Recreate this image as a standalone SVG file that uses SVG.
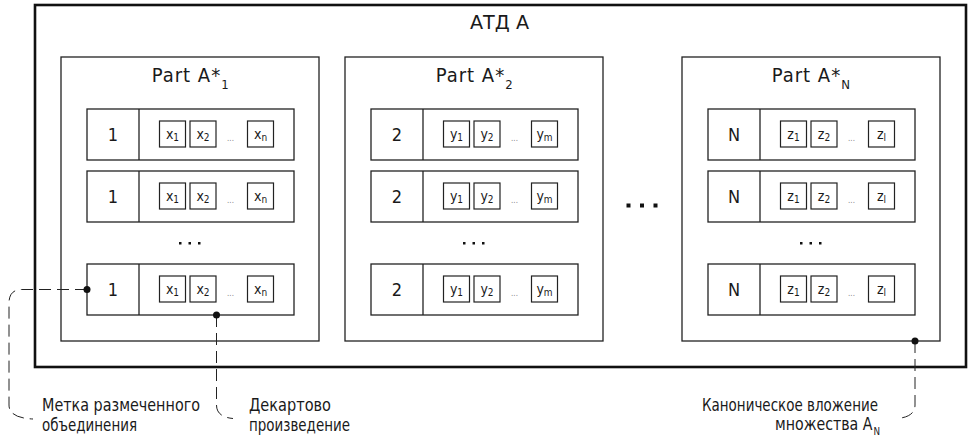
<svg xmlns="http://www.w3.org/2000/svg" width="971" height="438" viewBox="0 0 971 438">
<style>
text{font-family:"DejaVu Sans Condensed","Liberation Sans Narrow","Liberation Sans",sans-serif;fill:#1a1a1a}
.outer{fill:#fff;stroke:#111;stroke-width:2.6}
.part{fill:#fff;stroke:#222;stroke-width:1.3}
.row{fill:#fff;stroke:#222;stroke-width:1.3}
.div{stroke:#222;stroke-width:1.3}
.item{fill:#fff;stroke:#222;stroke-width:1.2}
.num{font-size:18px;text-anchor:middle}
.it{font-size:14px;text-anchor:middle}
.sub{font-size:10px}
.psub{font-size:13px}
.ell{font-size:8px;fill:#888;text-anchor:middle}
.title{font-size:19px}
.ptitle{font-size:20px;letter-spacing:1px}
.lbl{font-size:17px}
.conn{fill:none;stroke:#222;stroke-width:1;stroke-dasharray:12 6}
.dot{fill:#111}
.sq{fill:#111}
</style>
<g id="atd">
<rect class="outer" x="35" y="5" width="931" height="362"/>
<text class="title" x="470" y="28.5" textLength="59" lengthAdjust="spacingAndGlyphs">АТД A</text>
</g>

<g id="part1">
<rect class="part" x="61" y="57" width="258" height="284"/>
<text class="ptitle" x="151.7" y="81.7">Part A*<tspan class="psub" dy="6.8">1</tspan></text>
<g id="p1r1">
<rect class="row" x="87" y="109" width="207" height="51"/><line class="div" x1="139" y1="109" x2="139" y2="160"/>
<text class="num" x="113" y="141">1</text>
<rect class="item" x="159.5" y="121" width="26" height="26"/><rect class="item" x="190" y="121" width="26" height="26"/><rect class="item" x="247.5" y="121" width="26" height="26"/>
<text class="it" x="172.5" y="138.5">x<tspan class="sub" dy="2.5">1</tspan></text>
<text class="it" x="203" y="138.5">x<tspan class="sub" dy="2.5">2</tspan></text>
<text class="it" x="260.5" y="138.5">x<tspan class="sub" dy="2.5">n</tspan></text>
<text class="ell" x="230.5" y="141">...</text>
</g>
<g id="p1r2">
<rect class="row" x="87" y="171" width="207" height="51"/><line class="div" x1="139" y1="171" x2="139" y2="222"/>
<text class="num" x="113" y="203">1</text>
<rect class="item" x="159.5" y="183" width="26" height="26"/><rect class="item" x="190" y="183" width="26" height="26"/><rect class="item" x="247.5" y="183" width="26" height="26"/>
<text class="it" x="172.5" y="200.5">x<tspan class="sub" dy="2.5">1</tspan></text>
<text class="it" x="203" y="200.5">x<tspan class="sub" dy="2.5">2</tspan></text>
<text class="it" x="260.5" y="200.5">x<tspan class="sub" dy="2.5">n</tspan></text>
<text class="ell" x="230.5" y="203">...</text>
</g>
<g id="p1dots"><rect class="sq" x="179" y="242" width="2.5" height="2.5"/><rect class="sq" x="188.5" y="242" width="2.5" height="2.5"/><rect class="sq" x="198" y="242" width="2.5" height="2.5"/></g>
<g id="p1r3">
<rect class="row" x="87" y="264" width="207" height="51"/><line class="div" x1="139" y1="264" x2="139" y2="315"/>
<text class="num" x="113" y="296">1</text>
<rect class="item" x="159.5" y="276" width="26" height="26"/><rect class="item" x="190" y="276" width="26" height="26"/><rect class="item" x="247.5" y="276" width="26" height="26"/>
<text class="it" x="172.5" y="293.5">x<tspan class="sub" dy="2.5">1</tspan></text>
<text class="it" x="203" y="293.5">x<tspan class="sub" dy="2.5">2</tspan></text>
<text class="it" x="260.5" y="293.5">x<tspan class="sub" dy="2.5">n</tspan></text>
<text class="ell" x="230.5" y="296">...</text>
</g>
</g>

<g id="part2">
<rect class="part" x="345" y="57" width="258" height="284"/>
<text class="ptitle" x="435.7" y="81.7">Part A*<tspan class="psub" dy="6.8">2</tspan></text>
<g id="p2r1">
<rect class="row" x="371" y="109" width="207" height="51"/><line class="div" x1="423" y1="109" x2="423" y2="160"/>
<text class="num" x="397" y="141">2</text>
<rect class="item" x="443.5" y="121" width="26" height="26"/><rect class="item" x="474" y="121" width="26" height="26"/><rect class="item" x="531.5" y="121" width="26" height="26"/>
<text class="it" x="456.5" y="138.5">y<tspan class="sub" dy="2.5">1</tspan></text>
<text class="it" x="487" y="138.5">y<tspan class="sub" dy="2.5">2</tspan></text>
<text class="it" x="544.5" y="138.5">y<tspan class="sub" dy="2.5">m</tspan></text>
<text class="ell" x="514.5" y="141">...</text>
</g>
<g id="p2r2">
<rect class="row" x="371" y="171" width="207" height="51"/><line class="div" x1="423" y1="171" x2="423" y2="222"/>
<text class="num" x="397" y="203">2</text>
<rect class="item" x="443.5" y="183" width="26" height="26"/><rect class="item" x="474" y="183" width="26" height="26"/><rect class="item" x="531.5" y="183" width="26" height="26"/>
<text class="it" x="456.5" y="200.5">y<tspan class="sub" dy="2.5">1</tspan></text>
<text class="it" x="487" y="200.5">y<tspan class="sub" dy="2.5">2</tspan></text>
<text class="it" x="544.5" y="200.5">y<tspan class="sub" dy="2.5">m</tspan></text>
<text class="ell" x="514.5" y="203">...</text>
</g>
<g id="p2dots"><rect class="sq" x="463" y="242" width="2.5" height="2.5"/><rect class="sq" x="472.5" y="242" width="2.5" height="2.5"/><rect class="sq" x="482" y="242" width="2.5" height="2.5"/></g>
<g id="p2r3">
<rect class="row" x="371" y="264" width="207" height="51"/><line class="div" x1="423" y1="264" x2="423" y2="315"/>
<text class="num" x="397" y="296">2</text>
<rect class="item" x="443.5" y="276" width="26" height="26"/><rect class="item" x="474" y="276" width="26" height="26"/><rect class="item" x="531.5" y="276" width="26" height="26"/>
<text class="it" x="456.5" y="293.5">y<tspan class="sub" dy="2.5">1</tspan></text>
<text class="it" x="487" y="293.5">y<tspan class="sub" dy="2.5">2</tspan></text>
<text class="it" x="544.5" y="293.5">y<tspan class="sub" dy="2.5">m</tspan></text>
<text class="ell" x="514.5" y="296">...</text>
</g>
</g>

<g id="between"><rect class="sq" x="626.5" y="203.5" width="4" height="4"/><rect class="sq" x="640" y="203.5" width="4" height="4"/><rect class="sq" x="653.5" y="203.5" width="4" height="4"/></g>

<g id="partN">
<rect class="part" x="682" y="57" width="258" height="284"/>
<text class="ptitle" x="771.7" y="81.7">Part A*<tspan class="psub" dy="6.8">N</tspan></text>
<g id="pNr1">
<rect class="row" x="708" y="109" width="207" height="51"/><line class="div" x1="760" y1="109" x2="760" y2="160"/>
<text class="num" x="734" y="141">N</text>
<rect class="item" x="780.5" y="121" width="26" height="26"/><rect class="item" x="811" y="121" width="26" height="26"/><rect class="item" x="868.5" y="121" width="26" height="26"/>
<text class="it" x="793.5" y="138.5">z<tspan class="sub" dy="2.5">1</tspan></text>
<text class="it" x="824" y="138.5">z<tspan class="sub" dy="2.5">2</tspan></text>
<text class="it" x="881.5" y="138.5">z<tspan class="sub" dy="2.5">l</tspan></text>
<text class="ell" x="851.5" y="141">...</text>
</g>
<g id="pNr2">
<rect class="row" x="708" y="171" width="207" height="51"/><line class="div" x1="760" y1="171" x2="760" y2="222"/>
<text class="num" x="734" y="203">N</text>
<rect class="item" x="780.5" y="183" width="26" height="26"/><rect class="item" x="811" y="183" width="26" height="26"/><rect class="item" x="868.5" y="183" width="26" height="26"/>
<text class="it" x="793.5" y="200.5">z<tspan class="sub" dy="2.5">1</tspan></text>
<text class="it" x="824" y="200.5">z<tspan class="sub" dy="2.5">2</tspan></text>
<text class="it" x="881.5" y="200.5">z<tspan class="sub" dy="2.5">l</tspan></text>
<text class="ell" x="851.5" y="203">...</text>
</g>
<g id="pNdots"><rect class="sq" x="800" y="242" width="2.5" height="2.5"/><rect class="sq" x="809.5" y="242" width="2.5" height="2.5"/><rect class="sq" x="819" y="242" width="2.5" height="2.5"/></g>
<g id="pNr3">
<rect class="row" x="708" y="264" width="207" height="51"/><line class="div" x1="760" y1="264" x2="760" y2="315"/>
<text class="num" x="734" y="296">N</text>
<rect class="item" x="780.5" y="276" width="26" height="26"/><rect class="item" x="811" y="276" width="26" height="26"/><rect class="item" x="868.5" y="276" width="26" height="26"/>
<text class="it" x="793.5" y="293.5">z<tspan class="sub" dy="2.5">1</tspan></text>
<text class="it" x="824" y="293.5">z<tspan class="sub" dy="2.5">2</tspan></text>
<text class="it" x="881.5" y="293.5">z<tspan class="sub" dy="2.5">l</tspan></text>
<text class="ell" x="851.5" y="296">...</text>
</g>
</g>

<g id="connectors">
<path class="conn" d="M87,289.5 H22 Q9,289.5 9,303 V405 Q9,418 33,419"/>
<path class="conn" d="M216.5,315 V405 Q216.5,417 233,418.5"/>
<path class="conn" d="M915,341 V405 Q915,417 897,418.5"/>
<circle class="dot" cx="87" cy="289.5" r="3.5"/>
<circle class="dot" cx="216.5" cy="315" r="3.5"/>
<circle class="dot" cx="915" cy="341" r="3.5"/>
</g>

<g id="labels">
<text class="lbl" x="42" y="411" textLength="158" lengthAdjust="spacingAndGlyphs">Метка размеченного</text>
<text class="lbl" x="42" y="431" textLength="95" lengthAdjust="spacingAndGlyphs">объединения</text>
<text class="lbl" x="249" y="411" textLength="82" lengthAdjust="spacingAndGlyphs">Декартово</text>
<text class="lbl" x="249" y="431" textLength="101" lengthAdjust="spacingAndGlyphs">произведение</text>
<text class="lbl" x="702" y="411" textLength="176" lengthAdjust="spacingAndGlyphs">Каноническое вложение</text>
<text class="lbl" x="775" y="430" textLength="105" lengthAdjust="spacingAndGlyphs">множества A<tspan style="font-size:10.5px" dx="1" dy="4.5">N</tspan></text>
</g>
</svg>
